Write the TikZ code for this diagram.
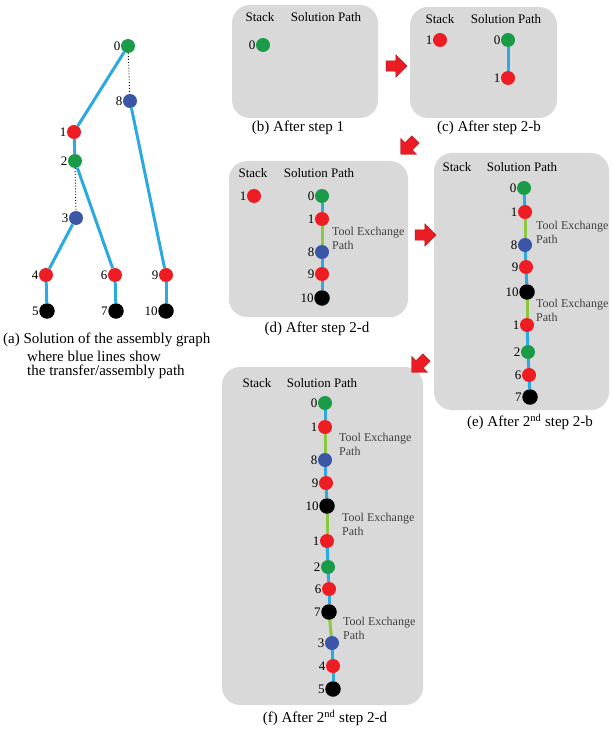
\documentclass[tikz,border=0pt]{standalone}
\usepackage{fontspec}
\setmainfont{Liberation Serif}
\usetikzlibrary{shapes.arrows}
\definecolor{nred}{HTML}{EE1D23}
\definecolor{ngreen}{HTML}{1A9B48}
\definecolor{nblue}{HTML}{3B56A6}
\definecolor{lblue}{HTML}{2CA9E1}
\definecolor{lgreen}{HTML}{8DC63F}
\definecolor{panelgray}{HTML}{D9D9D9}
\definecolor{arrred}{HTML}{ED1C24}
\tikzset{
  nd/.style={circle, minimum size=14pt, inner sep=0pt},
  numtxt/.style={font=\fontsize{13}{13}\selectfont, inner sep=0.3pt},
  rdn/.style={nd, fill=nred, label={[numtxt]left:#1}},
  gnn/.style={nd, fill=ngreen, label={[numtxt]left:#1}},
  bln/.style={nd, fill=nblue, label={[numtxt]left:#1}},
  bkn/.style={nd, minimum size=15.5pt, fill=black, label={[numtxt]left:#1}},
  blu/.style={draw=lblue, line width=3pt},
  texl/.style={draw=lgreen, line width=3pt},
  dotl/.style={draw=black, dotted, line width=0.9pt},
  panelbox/.style={fill=panelgray, rounded corners=18pt},
  hdtxt/.style={font=\fontsize{13}{13}\selectfont, inner sep=0pt},
  captxt/.style={font=\fontsize{15}{15}\selectfont, inner sep=0pt},
  toolt/.style={font=\fontsize{12}{14}\selectfont, text=black!75, align=left, inner sep=0pt, anchor=west},
  redarrow/.style={single arrow, fill=arrred, draw=arrred!70!black, line width=0.4pt,
     minimum height=21pt, inner sep=5pt, single arrow head extend=6pt},
}
\begin{document}
\begin{tikzpicture}[x=1pt,y=-1pt]
\useasboundingbox (0,0) rectangle (611,730);

% ---------- (a) tree ----------
\node[gnn=0] (t0) at (128,46) {};
\node[bln=8] (t8) at (130,101) {};
\node[rdn=1] (t1) at (74,132) {};
\node[gnn=2] (t2) at (75,161) {};
\node[bln=3] (t3) at (76,218) {};
\node[rdn=4] (t4) at (46,275) {};
\node[rdn=6] (t6) at (115,275) {};
\node[rdn=9] (t9) at (166,275) {};
\node[bkn=5] (t5) at (47,311) {};
\node[bkn=7] (t7) at (116,311) {};
\node[bkn=10] (t10) at (166,311) {};
\draw[blu] (t0) -- (t1);
\draw[dotl] (t0) -- (t8);
\draw[blu] (t1) -- (t2);
\draw[dotl] (t2) -- (t3);
\draw[blu] (t2) -- (t6);
\draw[blu] (t3) -- (t4);
\draw[blu] (t4) -- (t5);
\draw[blu] (t6) -- (t7);
\draw[blu] (t8) -- (t9);
\draw[blu] (t9) -- (t10);
\node[captxt, anchor=west] (capa1) at (3,340) {(a) Solution of the assembly graph};
\node[captxt, anchor=west] (capa2) at (27,356) {where blue lines show};
\node[captxt, anchor=west] (capa3) at (27,372) {the transfer/assembly path};

% ---------- (b) ----------
\fill[panelbox] (232,5) rectangle (378,118);
\node[hdtxt] (bst) at (260,17) {Stack};
\node[hdtxt] (bsp) at (326,17) {Solution Path};
\node[gnn=0] (b0) at (263,45) {};
\node[captxt] (capb) at (298,128) {(b) After step 1};

% ---------- (c) ----------
\fill[panelbox] (410,7) rectangle (557,118);
\node[hdtxt] (cst) at (440,19) {Stack};
\node[hdtxt] (csp) at (506,19) {Solution Path};
\node[rdn=1] (cs1) at (440,40) {};
\node[gnn=0] (c0) at (508,40) {};
\node[rdn=1] (c1) at (508,78) {};
\draw[blu] (c0) -- (c1);
\node[captxt] (capc) at (489,128) {(c) After step 2-b};

% ---------- (d) ----------
\fill[panelbox] (229,161) rectangle (408,317);
\node[hdtxt] (dst) at (253,173) {Stack};
\node[hdtxt] (dsp) at (319,173) {Solution Path};
\node[rdn=1] (ds1) at (254,196) {};
\node[gnn=0] (d0) at (322,196) {};
\node[rdn=1] (d1) at (322,219) {};
\node[bln=8] (d8) at (322,252) {};
\node[rdn=9] (d9) at (322,274) {};
\node[bkn=10] (d10) at (322,298) {};
\draw[blu] (d0) -- (d1);
\draw[texl] (d1) -- (d8);
\draw[blu] (d8) -- (d9);
\draw[blu] (d9) -- (d10);
\node[toolt] (dtool) at (332,238.5) {Tool Exchange\\Path};
\node[captxt] (capd) at (317,329) {(d) After step 2-d};

% ---------- (e) ----------
\fill[panelbox] (434,153) rectangle (609,410);
\node[hdtxt] (est) at (457,167) {Stack};
\node[hdtxt] (esp) at (522,167) {Solution Path};
\node[gnn=0] (e0) at (524,188) {};
\node[rdn=1] (e1) at (525,212) {};
\node[bln=8] (e8) at (525,245) {};
\node[rdn=9] (e9) at (526,267) {};
\node[bkn=10] (e10) at (527,292) {};
\node[rdn=1] (e1b) at (527,325) {};
\node[gnn=2] (e2) at (528,352) {};
\node[rdn=6] (e6) at (529,375) {};
\node[bkn=7] (e7) at (530,397) {};
\draw[blu] (e0) -- (e1);
\draw[texl] (e1) -- (e8);
\draw[blu] (e8) -- (e9);
\draw[blu] (e9) -- (e10);
\draw[texl] (e10) -- (e1b);
\draw[blu] (e1b) -- (e2);
\draw[blu] (e2) -- (e6);
\draw[blu] (e6) -- (e7);
\node[toolt] (etool1) at (536,232) {Tool Exchange\\Path};
\node[toolt] (etool2) at (536,310.5) {Tool Exchange\\Path};
\node[captxt] (cape) at (530,422) {(e) After 2\textsuperscript{nd} step 2-b};

% ---------- (f) ----------
\fill[panelbox] (222,367) rectangle (423,705);
\node[hdtxt] (fst) at (257,383) {Stack};
\node[hdtxt] (fsp) at (322,383) {Solution Path};
\node[gnn=0] (f0) at (325,403) {};
\node[rdn=1] (f1) at (325,427) {};
\node[bln=8] (f8) at (325,460) {};
\node[rdn=9] (f9) at (326,483) {};
\node[bkn=10] (f10) at (327,506) {};
\node[rdn=1] (f1b) at (327,541) {};
\node[gnn=2] (f2) at (328,567) {};
\node[rdn=6] (f6) at (329,589) {};
\node[bkn=7] (f7) at (329,612) {};
\node[bln=3] (f3) at (332,643) {};
\node[rdn=4] (f4) at (333,666) {};
\node[bkn=5] (f5) at (333,689) {};
\draw[blu] (f0) -- (f1);
\draw[texl] (f1) -- (f8);
\draw[blu] (f8) -- (f9);
\draw[blu] (f9) -- (f10);
\draw[texl] (f10) -- (f1b);
\draw[blu] (f1b) -- (f2);
\draw[blu] (f2) -- (f6);
\draw[blu] (f6) -- (f7);
\draw[texl] (f7) -- (f3);
\draw[blu] (f3) -- (f4);
\draw[blu] (f4) -- (f5);
\node[toolt] (ftool1) at (339,444) {Tool Exchange\\Path};
\node[toolt] (ftool2) at (342,524.5) {Tool Exchange\\Path};
\node[toolt] (ftool3) at (343,628) {Tool Exchange\\Path};
\node[captxt] (capf) at (325,718) {(f) After 2\textsuperscript{nd} step 2-d};

% ---------- arrows ----------
\node[redarrow] (arr1) at (394,66) {};
\node[redarrow, rotate=225] (arr2) at (410,145) {};
\node[redarrow] (arr3) at (423,235) {};
\node[redarrow, rotate=225] (arr4) at (421,363) {};
\end{tikzpicture}
\end{document}
